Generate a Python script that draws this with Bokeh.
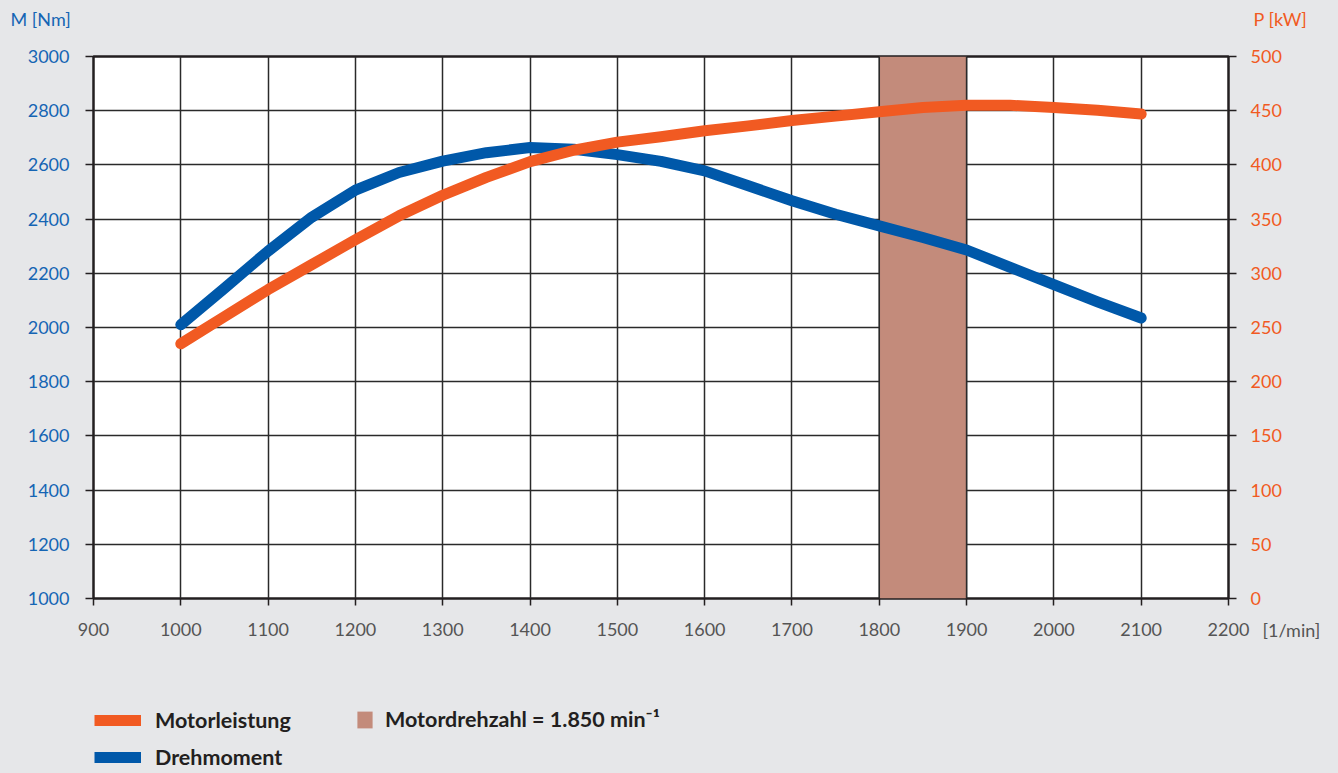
from bokeh.plotting import figure
from bokeh.layouts import column
from bokeh.models import (Range1d, LinearAxis, FixedTicker, Legend, LegendItem,
                          Label, ColumnDataSource)
from bokeh.embed import file_html
from bokeh.resources import INLINE

# ---- data ----
rpm = [1000, 1050, 1100, 1150, 1200, 1250, 1300, 1350, 1400, 1450, 1500, 1550,
       1600, 1650, 1700, 1750, 1800, 1850, 1900, 1950, 2000, 2050, 2100]
torque_nm = [2010, 2145, 2282, 2407, 2507, 2572, 2614, 2645, 2664, 2658, 2638, 2613,
             2578, 2523, 2468, 2418, 2375, 2332, 2286, 2222, 2158, 2095, 2035]
power_kw = [235, 260, 285, 308, 331, 353, 372, 388.5, 403, 413.5, 421, 426,
            431.5, 436, 441, 445, 449, 453, 455, 455, 453, 450.5, 447]
band_rpm = [1800, 1900]
x_ticks = [900, 1000, 1100, 1200, 1300, 1400, 1500, 1600, 1700, 1800, 1900, 2000, 2100, 2200]
m_ticks = [1000, 1200, 1400, 1600, 1800, 2000, 2200, 2400, 2600, 2800, 3000]
p_ticks = [0, 50, 100, 150, 200, 250, 300, 350, 400, 450, 500]

BG = "#e6e7e9"
BLUE = "#0058a9"
ORANGE = "#f15a22"
BAND = "#c38b7b"
DARK = "#231f20"
FONT = "Lato"

p = figure(width=1338, height=690, output_backend="svg", toolbar_location=None,
           x_range=Range1d(x_ticks[0], x_ticks[-1]),
           y_range=Range1d(m_ticks[0], m_ticks[-1]),
           min_border_left=93, min_border_right=110, min_border_top=56, min_border_bottom=92,
           background_fill_color="white", border_fill_color=BG,
           outline_line_color=DARK, outline_line_width=2.5)
p.extra_y_ranges = {"power": Range1d(p_ticks[0], p_ticks[-1])}

# grids
p.xgrid.ticker = FixedTicker(ticks=x_ticks)
p.ygrid.ticker = FixedTicker(ticks=m_ticks)
for g in (p.xgrid, p.ygrid):
    g.grid_line_color = "#2a2a2a"
    g.grid_line_width = 1.5

# axes
def style_axis(ax, color, standoff):
    ax.axis_line_color = None
    ax.major_tick_line_color = DARK
    ax.major_tick_line_width = 1.5
    ax.major_tick_in = 0
    ax.major_tick_out = 8
    ax.minor_tick_line_color = None
    ax.major_label_text_font = FONT
    ax.major_label_text_font_size = "18px"
    ax.major_label_text_color = color
    ax.major_label_standoff = standoff

p.xaxis.ticker = FixedTicker(ticks=x_ticks)
style_axis(p.xaxis[0], "#555555", 17)
p.xaxis.major_tick_out = 7
p.yaxis.ticker = FixedTicker(ticks=m_ticks)
style_axis(p.yaxis[0], "#1565b4", 16)

right = LinearAxis(y_range_name="power", ticker=FixedTicker(ticks=p_ticks))
style_axis(right, ORANGE, 14)
p.add_layout(right, "right")

# shaded band
band_src = ColumnDataSource(dict(left=[band_rpm[0]], right=[band_rpm[1]],
                                 bottom=[m_ticks[0]], top=[m_ticks[-1]]))
p.quad(left="left", right="right", bottom="bottom", top="top", source=band_src,
       fill_color=BAND, line_color=None)
p.segment(x0=band_rpm, y0=[m_ticks[0]] * 2, x1=band_rpm, y1=[m_ticks[-1]] * 2,
          line_color="#2a2a2a", line_width=1.5)

# curves
p.line(rpm, torque_nm, line_color=BLUE, line_width=11, line_cap="round", line_join="round")
p.line(rpm, power_kw, y_range_name="power", line_color=ORANGE, line_width=11,
       line_cap="round", line_join="round")

# axis titles (side panels are not clipped; panels stack outward)
p.add_layout(Label(x=-83, y=38, x_units="screen", y_units="screen", text="M [Nm]",
                   text_font=FONT, text_font_size="18px", text_color="#1565b4",
                   text_baseline="middle"), "above")
p.add_layout(Label(x=1160, y=16, x_units="screen", y_units="screen", text="P [kW]",
                   text_font=FONT, text_font_size="18px", text_color=ORANGE,
                   text_baseline="middle"), "above")
p.add_layout(Label(x=1169, y=31, x_units="screen", y_units="screen", text="[1/min]",
                   text_font=FONT, text_font_size="18px", text_color="#555555",
                   text_baseline="middle"), "below")

# ---- legend strip (its frame is aligned with the chart frame) ----
lf = figure(width=1338, height=83, output_backend="svg", toolbar_location=None,
            x_range=Range1d(0, 1), y_range=Range1d(0, 1),
            min_border=0, min_border_left=0, min_border_right=0,
            min_border_top=0, min_border_bottom=0,
            background_fill_color=BG, border_fill_color=BG, outline_line_color=None)
lf.axis.visible = False
lf.grid.visible = False
leg_o = lf.line(rpm, power_kw, line_color=ORANGE, line_width=11, visible=False)
leg_b = lf.line(rpm, torque_nm, line_color=BLUE, line_width=11, visible=False)
leg_s = lf.quad(left="left", right="right", bottom="bottom", top="top", source=band_src,
                fill_color=BAND, line_color=None, visible=False)

common = dict(padding=0, margin=0, border_line_color=None, background_fill_alpha=0,
              label_text_font=FONT, label_text_font_style="bold",
              label_text_font_size="21.5px", label_text_color=DARK)
leg1 = Legend(items=[LegendItem(label="Motorleistung", renderers=[leg_o]),
                     LegendItem(label="Drehmoment", renderers=[leg_b])],
              location=(1, 3), orientation="vertical", glyph_width=47, glyph_height=26,
              label_height=26, spacing=11, label_standoff=14, **common)
leg2 = Legend(items=[LegendItem(label="Motordrehzahl = 1.850 min\u207b\u00b9", renderers=[leg_s])],
              location=(262, 41), glyph_width=19, glyph_height=21,
              label_height=26, label_standoff=11, **common)
lf.add_layout(leg1)
lf.add_layout(leg2)

layout = column(p, lf, spacing=0)

html = file_html(layout, INLINE)
html = html.replace("<head>", "<head><style>html,body{margin:0;padding:0;overflow:hidden;background:%s;}</style>" % BG, 1)
open("out.html", "w").write(html)
